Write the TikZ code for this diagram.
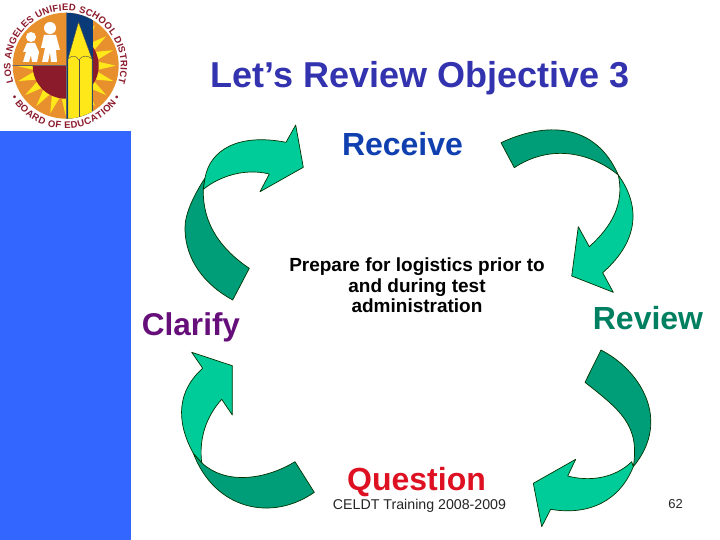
\documentclass[tikz,border=0pt]{standalone}
\usepackage{fontspec}
\setmainfont{Liberation Sans}
\usetikzlibrary{decorations.text}
\definecolor{panel}{HTML}{3366FF}
\definecolor{lightarrow}{HTML}{00CC99}
\definecolor{darkarrow}{HTML}{009E78}
\definecolor{titleblue}{HTML}{3333B0}
\definecolor{recvblue}{HTML}{1040B0}
\definecolor{clarpurple}{HTML}{660F7A}
\definecolor{revgreen}{HTML}{008060}
\definecolor{questred}{HTML}{DD1122}
\definecolor{sealred}{HTML}{8B1A2B}
\definecolor{sealorange}{HTML}{E8902E}
\definecolor{sealyellow}{HTML}{FFE81A}
\definecolor{sealnavy}{HTML}{0A3A78}
\tikzset{
  lightshape/.style={fill=lightarrow,draw=black!80!green,line width=0.7pt,line join=round},
  darkshape/.style={fill=darkarrow,draw=black!80!green,line width=0.7pt,line join=round},
  bodytext/.style={inner sep=0pt,align=center},
}
\begin{document}
\begin{tikzpicture}[x=1pt,y=-1pt]
\useasboundingbox (0,0) rectangle (720,540);
\fill[white] (0,0) rectangle (720,540);
\fill[panel] (0,131) rectangle (131,540);
% seal
\begin{scope}
\clip (65.7,65.7) circle (53);
\fill[sealorange] (12,12) rectangle (120,120);
\begin{scope}
\clip (66,66) rectangle (120,120) (12,66) rectangle (66,120) (66,12) rectangle (120,66);
\fill[sealyellow] plot[samples=41,domain=0:40] ({65.7+(mod(\x,2)==0 ? 50 : 30)*cos(\x*9)},{65.7+(mod(\x,2)==0 ? 50 : 30)*sin(\x*9)}) -- cycle;
\fill[sealred] (65.7,65.7) circle (33);
\end{scope}
\fill[sealnavy] (66,10) rectangle (92.7,120);
\fill[sealyellow,draw=black!70,line width=0.4pt] (78.5,22) -- (92,59) -- (92,120) -- (68,120) -- (68,59) -- cycle;
\draw[black!70,line width=0.4pt] (68,59) .. controls (72,55) and (76,55) .. (79,60) .. controls (82,55) and (88,55) .. (92,59);
\draw[black!70,line width=0.4pt] (79,60) -- (79,120);
\fill[white] (50,28) circle (6);
\fill[white] (44,35) -- (56,35) -- (60,50) -- (56,50) -- (57,62) -- (51,62) -- (50,52) -- (48,62) -- (42,62) -- (45,48) -- (41,48) -- cycle;
\fill[white] (31,37) circle (5);
\fill[white] (27,43) -- (35,43) -- (39,52) -- (37,62) -- (32,62) -- (31,55) -- (29,62) -- (23,62) -- (26,52) -- (23,52) -- cycle;
\draw[black!60,line width=0.5pt] (12,65.5) -- (66,65.5) (66,12) -- (66,120);
\end{scope}
\begin{scope}[y=1pt]
\path[decorate,decoration={text along path,text align={fit to path},
  text={|\fontsize{9.5}{11}\selectfont\bfseries\color{sealred}|LOS ANGELES UNIFIED SCHOOL DISTRICT}}]
  (65.7,-65.7) ++(198:55) arc[start angle=198,end angle=-18,radius=55];
\path[decorate,decoration={text along path,text align={fit to path},
  text={|\fontsize{9.5}{11}\selectfont\bfseries\color{sealred}|• BOARD OF EDUCATION •}}]
  (65.7,-65.7) ++(210:63) arc[start angle=210,end angle=330,radius=63];
\end{scope}
% arrows
\draw[darkshape] (205,178) .. controls (192,198) and (185,215) .. (185,228) .. controls (185,260) and (205,285) .. (232.7,300) -- (249.3,268.3) .. controls (222,250) and (202.5,225) .. (203.3,189.3) -- cycle;
\draw[lightshape] (203.3,189.3) -- (205,178) .. controls (210,150) and (238,133) .. (286,142.3) -- (295.7,125) -- (303.3,167.3) -- (260,191.7) -- (269.3,174) .. controls (245,168) and (220,176) .. (203.3,189.3) -- cycle;
\draw[darkshape] (501,142.7) .. controls (545,122) and (595,122) .. (618.3,175) .. controls (590,152) and (550,144) .. (514.3,167.7) -- cycle;
\draw[lightshape] (618.3,175) .. controls (640,205) and (640,240) .. (602.7,272.7) -- (613.3,292.3) -- (571.7,276) -- (578.3,226.7) -- (589.3,246.7) .. controls (610,228) and (625,205) .. (618.3,175) -- cycle;
\draw[darkshape] (601,350) .. controls (640,370) and (672,420) .. (633.3,466.7) .. controls (640,425) and (620,410) .. (585,382.3) -- cycle;
\draw[lightshape] (633.3,466.7) .. controls (620,500) and (590,516) .. (550.7,509.3) -- (541.7,526.7) -- (533.3,483.3) -- (575.7,459.3) -- (567.7,476) .. controls (590,482) and (615,478) .. (631.7,461.7) -- cycle;
\draw[darkshape] (295,461.7) .. controls (265,480) and (225,485) .. (201.7,462.7) -- (193.3,453.3) .. controls (215,510) and (272,522) .. (314.3,492.3) -- cycle;
\draw[lightshape] (201.7,462.7) -- (193.3,453.3) .. controls (175,420) and (178,390) .. (202.7,368.3) -- (191.7,352.3) -- (232.3,365.7) -- (232.3,415) -- (221.7,399.3) .. controls (205,418) and (199,440) .. (201.7,462.7) -- cycle;
% texts
\node[inner sep=0pt,font=\fontsize{36}{40}\selectfont\bfseries,text=titleblue] (title) at (420,78) {Let’s Review Objective 3};
\node[inner sep=0pt,font=\fontsize{32}{38}\selectfont\bfseries,text=recvblue] (receive) at (402.5,144) {Receive};
\node[inner sep=0pt,font=\fontsize{31.5}{34}\selectfont\bfseries,text=clarpurple] (clarify) at (191,327) {Clarify};
\node[inner sep=0pt,font=\fontsize{32}{34}\selectfont\bfseries,text=revgreen] (review) at (648,318) {Review};
\node[inner sep=0pt,font=\fontsize{32}{38}\selectfont\bfseries,text=questred] (question) at (416.5,482) {Question};
\node[bodytext,font=\fontsize{19}{20.5}\selectfont\bfseries] (body) at (417,285.5) {Prepare for logistics prior to\\and during test\\administration};
\node[inner sep=0pt,font=\fontsize{14.2}{16}\selectfont,text=black!85] (footer) at (419.5,506) {CELDT Training 2008-2009};
\node[inner sep=0pt,font=\fontsize{13}{16}\selectfont,text=black!85] (page) at (675.5,504.5) {62};
\end{tikzpicture}
\end{document}
